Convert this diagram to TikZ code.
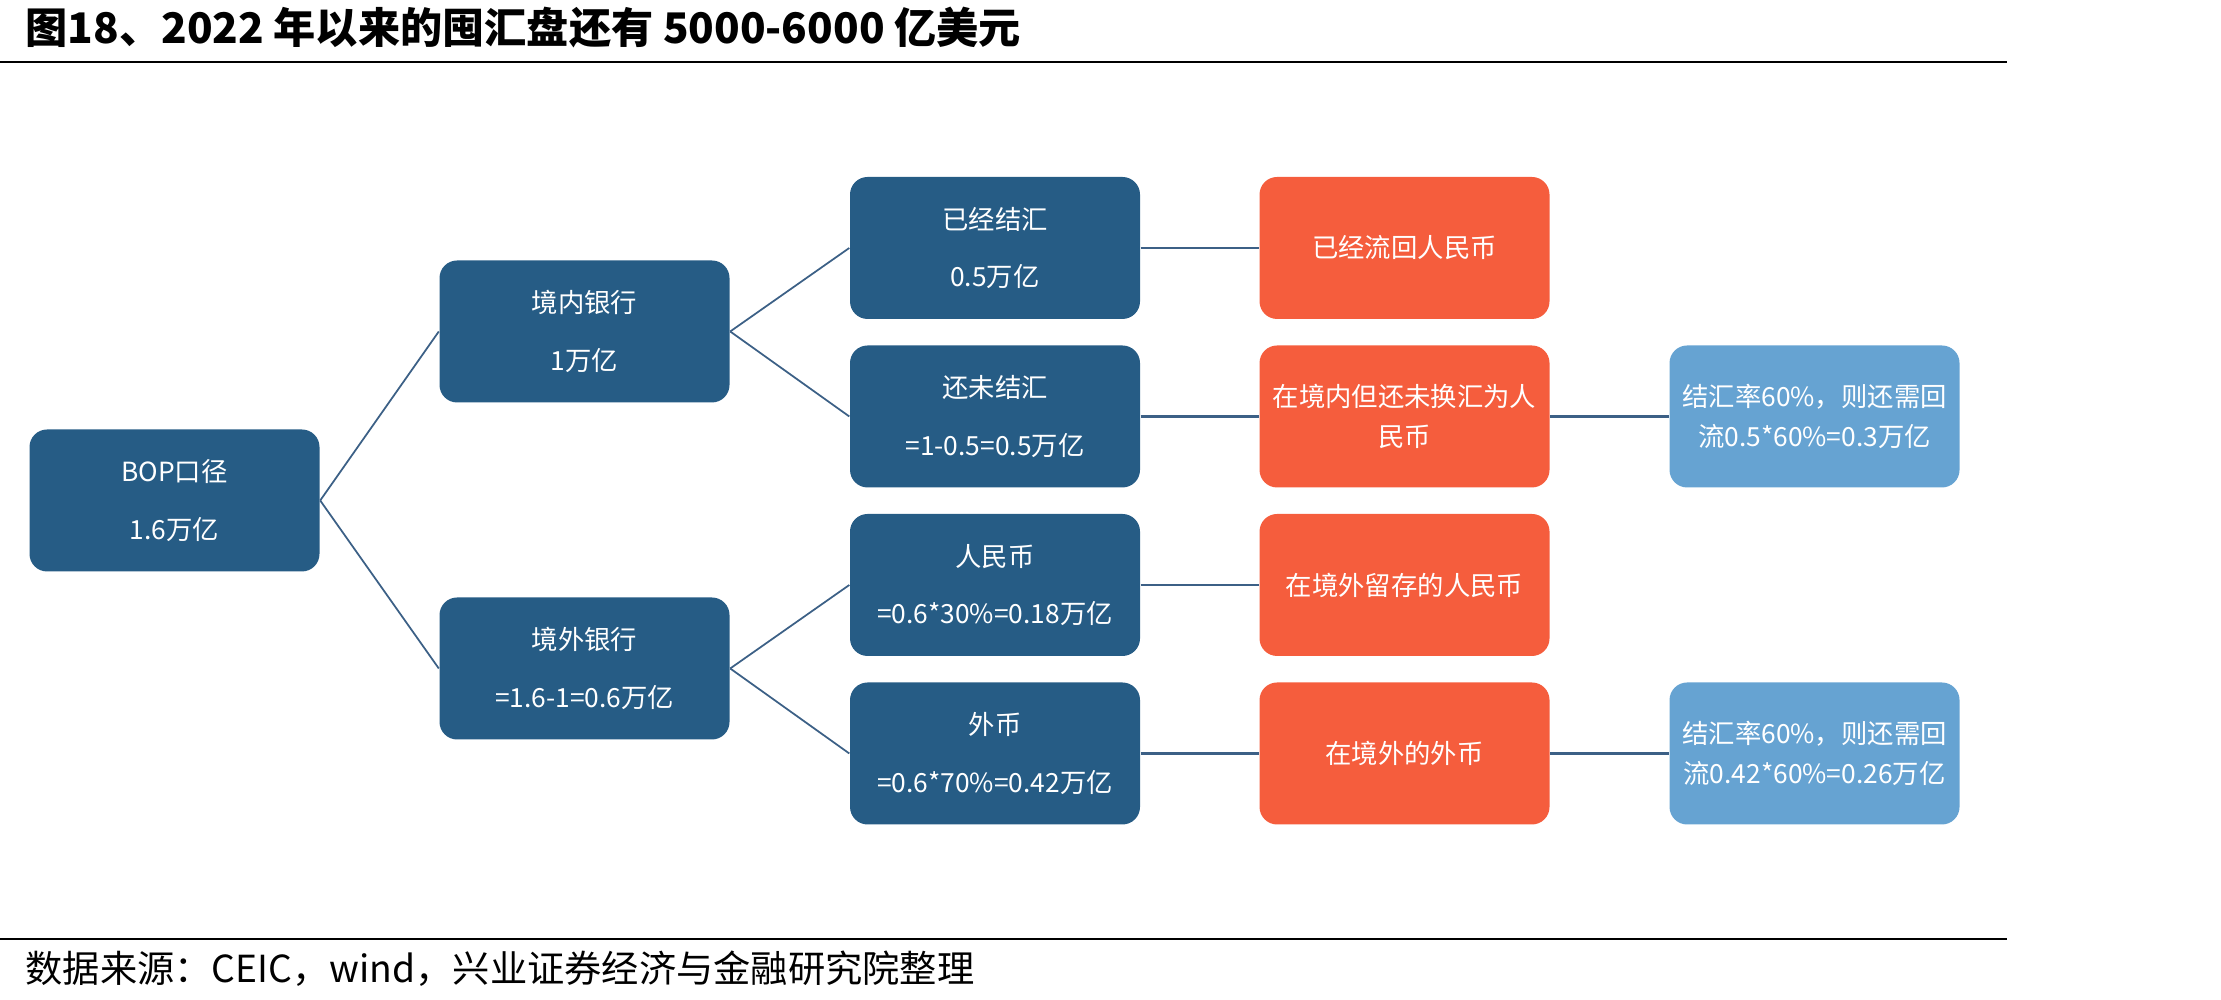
\documentclass[tikz,border=0pt]{standalone}
\usepackage{fontspec}
\usepackage{xcolor}
\usetikzlibrary{positioning}
\setmainfont{Noto Sans CJK SC}
\definecolor{bopblue}{RGB}{38,92,133}
\definecolor{cnyorange}{RGB}{245,93,61}
\definecolor{fxlight}{RGB}{102,163,210}
\definecolor{linkgray}{RGB}{60,96,134}

\begin{document}
\begin{tikzpicture}[
    flow/.style={fill=bopblue, rounded corners=5pt, text=white, align=center,
                 minimum width=2.9cm, minimum height=1.42cm,
                 font=\fontsize{7.5}{16.4}\selectfont},
    fate/.style={fill=cnyorange, rounded corners=5pt, text=white, align=center,
                 minimum width=2.9cm, minimum height=1.42cm, text width=2.7cm,
                 inner xsep=0.1cm, font=\fontsize{7.5}{11.3}\selectfont},
    back/.style={fate, fill=fxlight},
    link/.style={draw=linkgray, line width=0.5pt},
    hlink/.style={draw=linkgray, line width=0.7pt}
  ]
    \useasboundingbox (0,0) rectangle (22.21,10);

    % title and source
    \node[anchor=west, inner xsep=0pt, font=\fontsize{12}{14}\selectfont\bfseries] (title) at (0.25,9.72)
      {图18、2022 年以来的囤汇盘还有 5000-6000 亿美元};
    \draw[line width=0.7pt] (0,9.38) -- (20.07,9.38);
    \draw[line width=0.7pt] (0,0.61) -- (20.07,0.61);
    \node[anchor=west, inner xsep=0pt, font=\fontsize{10.6}{12}\selectfont] (source) at (0.25,0.31)
      {数据来源：CEIC，wind，兴业证券经济与金融研究院整理};

    % tree
    \begin{scope}
      \node[flow] (bop)   at (1.745, 4.995)  {BOP口径\\1.6万亿};
      \node[flow] (inbk)  at (5.845, 6.685)  {境内银行\\1万亿};
      \node[flow] (offbk) at (5.845, 3.315)  {境外银行\\=1.6-1=0.6万亿};
      \node[flow] (done)  at (9.95, 7.52)    {已经结汇\\0.5万亿};
      \node[flow] (notyet) at (9.95, 5.835)  {还未结汇\\=1-0.5=0.5万亿};
      \node[flow] (rmb)   at (9.95, 4.15)    {人民币\\=0.6*30\%=0.18万亿};
      \node[flow] (fx)    at (9.95, 2.465)   {外币\\=0.6*70\%=0.42万亿};

      \node[fate] (back1) at (14.045, 7.52)  {已经流回人民币};
      \node[fate] (stay1) at (14.045, 5.835) {在境内但还未换汇为人\\民币};
      \node[fate] (stay2) at (14.045, 4.15)  {在境外留存的人民币};
      \node[fate] (stay3) at (14.045, 2.465) {在境外的外币};

      \node[back] (need1) at (18.145, 5.835) {结汇率60\%，则还需回\\流0.5*60\%=0.3万亿};
      \node[back] (need2) at (18.145, 2.465) {结汇率60\%，则还需回\\流0.42*60\%=0.26万亿};
    \end{scope}

    % branches
    \draw[link] (bop.east) -- (inbk.west);
    \draw[link] (bop.east) -- (offbk.west);
    \draw[link] (inbk.east) -- (done.west);
    \draw[link] (inbk.east) -- (notyet.west);
    \draw[link] (offbk.east) -- (rmb.west);
    \draw[link] (offbk.east) -- (fx.west);
    \draw[hlink] (done) -- (back1);
    \draw[hlink] (notyet) -- (stay1);
    \draw[hlink] (rmb) -- (stay2);
    \draw[hlink] (fx) -- (stay3);
    \draw[hlink] (stay1) -- (need1);
    \draw[hlink] (stay3) -- (need2);
  \end{tikzpicture}
\end{document}
